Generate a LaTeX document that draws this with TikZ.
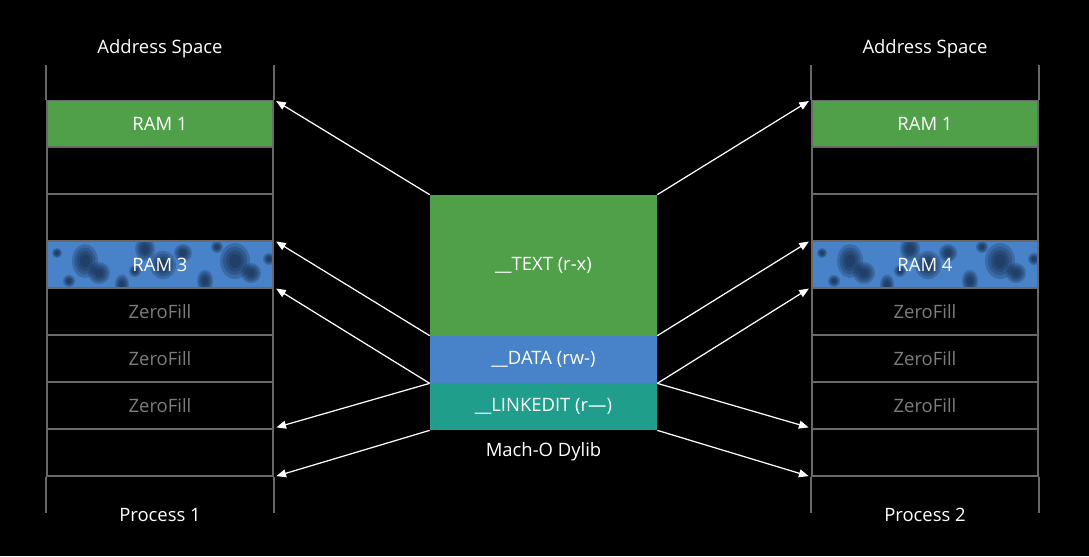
\documentclass[tikz,border=0pt]{standalone}
\usepackage{fontspec}
\setmainfont{Open Sans}
\usetikzlibrary{positioning,calc,arrows.meta}

\definecolor{ramgreen}{RGB}{80,160,74}
\definecolor{ramblue}{RGB}{72,130,200}
\definecolor{linkteal}{RGB}{32,158,140}
\definecolor{gridgray}{RGB}{105,105,105}
\definecolor{zerogray}{RGB}{125,125,125}
\definecolor{blobdark}{RGB}{12,28,52}

\tikzset{
  slot/.style={draw=gridgray, line width=1pt, minimum width=4.52cm, minimum height=0.94cm,
    inner sep=0pt, text=white, font=\fontsize{10.5}{12}\selectfont},
  zerofill/.style={slot, text=zerogray},
  segment/.style={minimum width=4.54cm, inner sep=0pt, text=white, font=\fontsize{10.5}{12}\selectfont},
  map/.style={draw=white, line width=0.7pt, -{Triangle[width=4.5pt,length=5.5pt]}, shorten >=1.5pt},
  caption/.style={text=white, font=\fontsize{10.5}{12}\selectfont},
}

\begin{document}
\begin{tikzpicture}[x=0.02cm, y=-0.02cm]
    % Background
    \fill[black] (0,0) rectangle (1089,556);
    \useasboundingbox (0,0) rectangle (1089,556);

    % Address spaces of both processes
    \foreach \col/\cx/\ramlabel/\proc in {L/160/RAM 3/Process 1, R/925/RAM 4/Process 2} {
        % Texture of the shared page
        \fill[ramblue] (\cx-113,241) rectangle (\cx+113,288);
        \begin{scope}
            \clip (\cx-113,241) rectangle (\cx+113,288);
            \foreach \bx/\by/\br/\bs in {38/20/13/1.3, 52/32/11/1, 22/40/6/1, 98/8/10/1.2, 116/24/13/1.1,
                                         136/12/9/1, 158/40/8/1.4, 188/20/15/1.2, 204/32/10/1, 75/44/7/1.5,
                                         10/12/5/1, 170/6/6/1, 222/18/6/1, 88/30/6/1} {
                \foreach \sc in {1,0.8,0.6,0.4} {
                    \fill[blobdark, opacity=0.22]
                        (\cx-113+\bx,241+\by) ellipse[x radius=\br*\sc, y radius=\br*\sc*\bs];
                }
            }
        \end{scope}

        \node[slot, fill=ramgreen] (\col1) at (\cx,124) {RAM 1};
        \node[slot] (\col2) at (\cx,170.5) {};
        \node[slot] (\col3) at (\cx,217.5) {};
        \node[slot] (\col4) at (\cx,264.5) {\ramlabel};
        \node[zerofill] (\col5) at (\cx,311.5) {ZeroFill};
        \node[zerofill] (\col6) at (\cx,358.5) {ZeroFill};
        \node[zerofill] (\col7) at (\cx,405.5) {ZeroFill};
        \node[slot] (\col8) at (\cx,452.5) {};

        % Open ends of the address space
        \draw[gridgray, line width=1pt] (\col1.north west) -- (\col1.north west |- 0,65);
        \draw[gridgray, line width=1pt] (\col1.north east) -- (\col1.north east |- 0,65);
        \draw[gridgray, line width=1pt] (\col8.south west) -- (\col8.south west |- 0,513);
        \draw[gridgray, line width=1pt] (\col8.south east) -- (\col8.south east |- 0,513);

        \node[caption] at (\cx,48.5) {Address Space};
        \node[caption] at (\cx,515) {\proc};
    }

    % Mach-O Dylib
    \node[segment, fill=ramgreen, minimum height=2.82cm] (text) at (543.5,265.5) {\_\_TEXT (r-x)};
    \node[segment, fill=ramblue, minimum height=0.94cm] (data) at (543.5,359.5) {\_\_DATA (rw-)};
    \node[segment, fill=linkteal, minimum height=0.94cm] (linkedit) at (543.5,406.5) {\_\_LINKEDIT (r—)};
    \node[caption] (dylib) at (543.5,452) {Mach-O Dylib};

    % Mappings into Process 1
    \draw[map] (text.north west) -- (L1.north east);
    \draw[map] (data.north west) -- (L4.north east);
    \draw[map] (data.south west) -- (L5.north east);
    \draw[map] (data.south west) -- (L8.north east);
    \draw[map] (linkedit.south west) -- (L8.south east);

    % Mappings into Process 2
    \draw[map] (text.north east) -- (R1.north west);
    \draw[map] (data.north east) -- (R4.north west);
    \draw[map] (data.south east) -- (R5.north west);
    \draw[map] (data.south east) -- (R8.north west);
    \draw[map] (linkedit.south east) -- (R8.south west);

\end{tikzpicture}
\end{document}
